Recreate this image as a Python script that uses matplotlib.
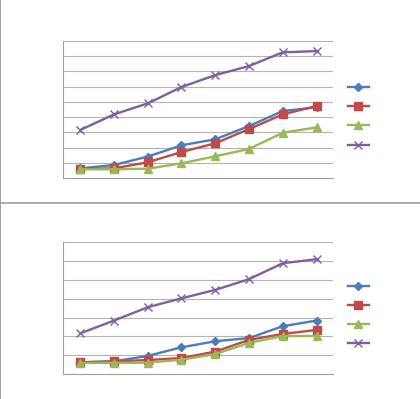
import matplotlib
matplotlib.use("Agg")
import matplotlib.pyplot as plt
from matplotlib.lines import Line2D

# category positions (no labels shown in the picture)
cats = [0, 1, 2, 3, 4, 5, 6, 7]

# top chart
top_blue = [0.65, 0.87, 1.42, 2.16, 2.55, 3.42, 4.40, 4.64]
top_red = [0.61, 0.65, 1.05, 1.72, 2.29, 3.22, 4.18, 4.73]
top_green = [0.59, 0.59, 0.63, 0.98, 1.44, 1.92, 2.98, 3.33]
top_purple = [3.16, 4.18, 4.90, 5.97, 6.75, 7.34, 8.24, 8.32]

# bottom chart
bot_blue = [0.62, 0.67, 0.96, 1.42, 1.74, 1.91, 2.54, 2.84]
bot_red = [0.62, 0.67, 0.74, 0.85, 1.19, 1.81, 2.13, 2.34]
bot_green = [0.59, 0.59, 0.60, 0.76, 1.06, 1.65, 2.02, 2.02]
bot_purple = [2.16, 2.84, 3.55, 4.02, 4.47, 5.04, 5.89, 6.10]

colors = ["#4a7ebb", "#be4b48", "#98b954", "#7d60a0"]
markers = ["D", "s", "^", "x"]
msizes = [4, 6, 6, 6]


def draw(ax, series, ymax):
    handles = []
    for vals, c, m, ms in zip(series, colors, markers, msizes):
        h, = ax.plot(cats, vals, color=c, marker=m, markersize=ms, lw=1.7,
                     markeredgecolor=c, markeredgewidth=1.0)
        handles.append(h)
    ax.set_xlim(-0.5, 7.5)
    ax.set_ylim(0, ymax)
    ax.set_yticks(range(0, ymax + 1))
    ax.set_xticks([])
    ax.tick_params(left=False, labelleft=False)
    ax.grid(axis="y", color="#b4b4b4", lw=0.8)
    ax.set_axisbelow(True)
    for s in ["top", "right"]:
        ax.spines[s].set_visible(False)
    ax.spines["left"].set_color("#a0a0a0")
    ax.spines["bottom"].set_color("#a0a0a0")
    return handles


fig = plt.figure(figsize=(4.2, 3.99), dpi=100)

ax1 = fig.add_axes([0.1508, 0.5531, 0.643, 0.3449])
h1 = draw(ax1, [top_blue, top_red, top_green, top_purple], 9)
ax1.legend(h1, ["", "", "", ""], loc="center left", bbox_to_anchor=(1.054, 0.448),
           frameon=False, fontsize=9, labelspacing=0.5, handlelength=1.68,
           borderpad=0, borderaxespad=0, handletextpad=0)

ax2 = fig.add_axes([0.1508, 0.0627, 0.643, 0.330])
h2 = draw(ax2, [bot_blue, bot_red, bot_green, bot_purple], 7)
ax2.legend(h2, ["", "", "", ""], loc="center left", bbox_to_anchor=(1.054, 0.445),
           frameon=False, fontsize=9, labelspacing=0.5, handlelength=1.68,
           borderpad=0, borderaxespad=0, handletextpad=0)

# outer frame lines of the sheet
fig.add_artist(Line2D([0.001, 0.001], [0, 1], color="#909090", lw=1.2))
fig.add_artist(Line2D([0, 1], [1 - 202.5 / 399, 1 - 202.5 / 399], color="#a0a0a0", lw=1.2))

fig.savefig("out.png", dpi=100)
